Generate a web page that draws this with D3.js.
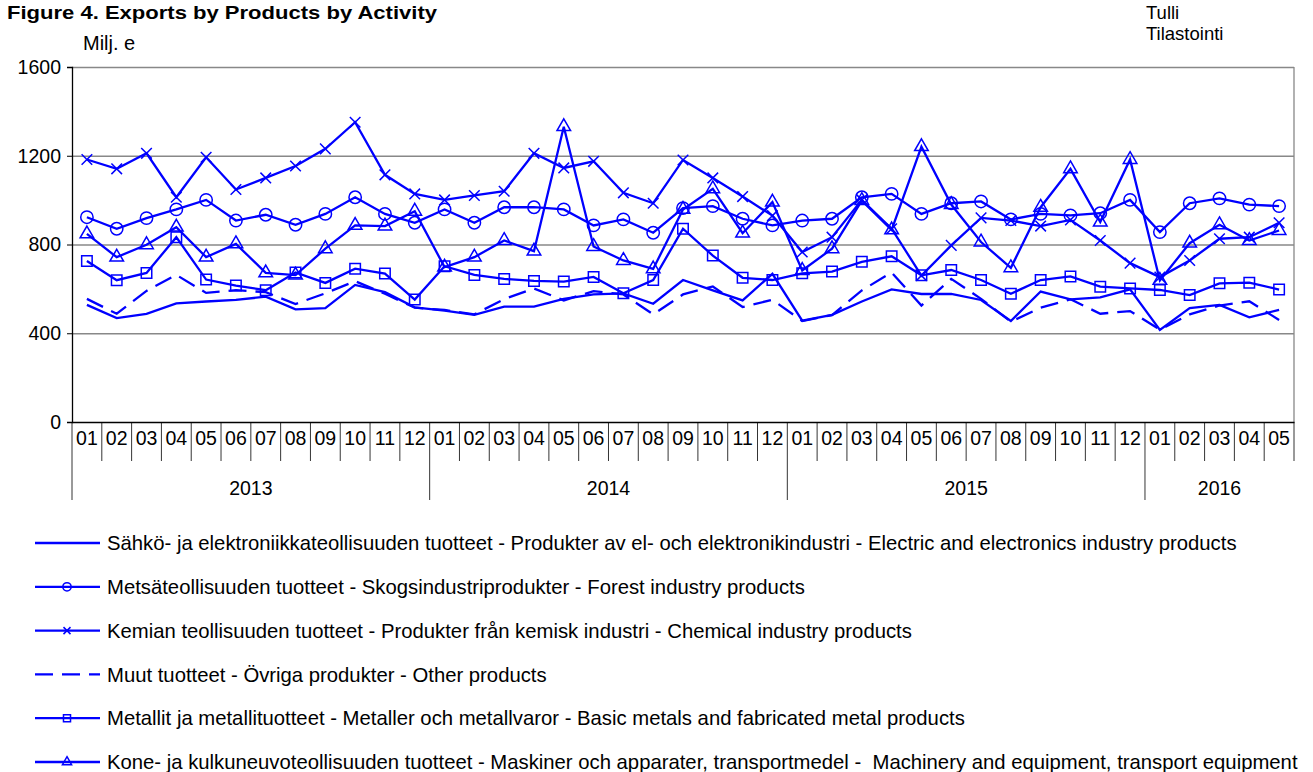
<!DOCTYPE html>
<html>
<head>
<meta charset="utf-8">
<script src="https://cdn.jsdelivr.net/npm/d3@7"></script>
<style>
  body { margin: 0; background: #fff; }
  svg text { font-family: "Liberation Sans", Arial, sans-serif; fill: #000; }
</style>
</head>
<body>
<div id="chart"></div>
<script>
// months 2013-01 .. 2016-05
const monthLabels = [
  '01', '02', '03', '04', '05', '06', '07', '08', '09', '10', '11', '12',
  '01', '02', '03', '04', '05', '06', '07', '08', '09', '10', '11', '12',
  '01', '02', '03', '04', '05', '06', '07', '08', '09', '10', '11', '12',
  '01', '02', '03', '04', '05'
];
const years = ['2013', '2014', '2015', '2016'];
const monthsPerYear = [12, 12, 12, 5];
const yTicks = [0, 400, 800, 1200, 1600];

// Milj. e
const electric = [528, 468, 487, 535, 543, 550, 565, 508, 513, 618, 585, 517,
  502, 483, 520, 520, 555, 575, 580, 533, 640, 593, 548, 668,
  457, 483, 543, 598, 577, 577, 550, 455, 588, 553, 562, 598,
  415, 513, 528, 472, 505];
const forest = [923, 871, 919, 958, 1001, 908, 934, 889, 938, 1013, 938, 898,
  958, 898, 968, 968, 958, 886, 913, 853, 964, 973, 916, 886,
  908, 916, 1013, 1028, 938, 986, 994, 913, 938, 931, 941, 1001,
  856, 986, 1008, 980, 973];
const chemical = [1183, 1141, 1211, 1013, 1193, 1048, 1100, 1154, 1231, 1351, 1114, 1028,
  1001, 1021, 1040, 1211, 1145, 1175, 1033, 986, 1181, 1100, 1016, 930,
  766, 833, 1001, 871, 660, 796, 920, 908, 883, 911, 818, 716,
  653, 728, 826, 833, 898];
const other = [555, 488, 591, 663, 582, 594, 585, 532, 580, 635, 578, 515,
  505, 485, 554, 602, 548, 590, 575, 485, 575, 611, 518, 551,
  455, 482, 593, 674, 525, 645, 555, 452, 515, 553, 488, 500,
  416, 485, 525, 544, 460];
const metals = [726, 639, 672, 833, 642, 615, 594, 674, 627, 691, 669, 552,
  702, 663, 645, 636, 633, 654, 580, 640, 871, 750, 650, 640,
  670, 678, 722, 747, 661, 685, 640, 578, 640, 656, 610, 602,
  595, 572, 625, 628, 597];
const machinery = [848, 743, 799, 878, 743, 803, 672, 662, 781, 886, 883, 950,
  698, 743, 818, 770, 1331, 791, 728, 690, 958, 1051, 851, 991,
  683, 781, 998, 866, 1241, 980, 811, 695, 968, 1141, 901, 1183,
  638, 806, 889, 818, 863];

const seriesNames = [
  'Sähkö- ja elektroniikkateollisuuden tuotteet - Produkter av el- och elektronikindustri - Electric and electronics industry products',
  'Metsäteollisuuden tuotteet - Skogsindustriprodukter - Forest industry products',
  'Kemian teollisuuden tuotteet - Produkter från kemisk industri - Chemical industry products',
  'Muut tuotteet - Övriga produkter - Other products',
  'Metallit ja metallituotteet - Metaller och metallvaror - Basic metals and fabricated metal products',
  'Kone- ja kulkuneuvoteollisuuden tuotteet - Maskiner och apparater, transportmedel -  Machinery and equipment, transport equipment'
];

const blue = '#0000ff';
const series = [
  {name: seriesNames[0], values: electric, symbol: null, dash: null},
  {name: seriesNames[1], values: forest, symbol: d3.symbolCircle, size: 120, dash: null},
  {name: seriesNames[2], values: chemical, symbol: d3.symbolX, size: 75, dash: null},
  {name: seriesNames[3], values: other, symbol: null, dash: '18,9'},
  {name: seriesNames[4], values: metals, symbol: d3.symbolSquare, size: 110, dash: null},
  {name: seriesNames[5], values: machinery, symbol: d3.symbolTriangle, size: 80, dash: null}
];

const W = 1313, H = 772;
const margin = {top: 67, left: 72, right: 19, bottom: 350};
const width = W - margin.left - margin.right;
const height = H - margin.top - margin.bottom;

const svg = d3.select('#chart').append('svg')
  .attr('width', W)
  .attr('height', H);

const x = d3.scaleBand()
  .domain(d3.range(monthLabels.length))
  .range([0, width])
  .paddingInner(0).paddingOuter(0);
const y = d3.scaleLinear()
  .domain([0, 1600])
  .range([height, 0]);

const chart = svg.append('g')
  .attr('transform', `translate(${margin.left}, ${margin.top})`);

// gridlines + frame
chart.append('g')
  .attr('class', 'grid')
  .call(d3.axisLeft(y).tickValues(yTicks.slice(1)).tickSize(-width).tickFormat(''))
  .call(g => g.select('.domain').remove())
  .selectAll('line')
  .attr('stroke', '#888')
  .attr('stroke-width', 1.3);
chart.append('line')
  .attr('x1', width).attr('x2', width)
  .attr('y1', 0).attr('y2', height)
  .attr('stroke', '#888').attr('stroke-width', 1.3);

// y axis
const yAxis = chart.append('g')
  .call(d3.axisLeft(y).tickValues(yTicks).tickSize(5).tickPadding(6).tickFormat(d3.format('d')));
yAxis.select('.domain').attr('stroke', '#000').attr('stroke-width', 1.3);
yAxis.selectAll('.tick line').attr('stroke', '#000');
yAxis.selectAll('text').style('font-size', '19.5px');

// x axis: month labels and separators
const xAxis = chart.append('g')
  .attr('transform', `translate(0, ${height})`)
  .call(d3.axisBottom(x).tickSize(0).tickPadding(9).tickFormat(i => monthLabels[i]));
xAxis.select('.domain').attr('stroke', '#000').attr('stroke-width', 1.3);
xAxis.selectAll('text').style('font-size', '19.5px');

const step = x.step();
chart.append('g')
  .selectAll('line')
  .data(d3.range(monthLabels.length + 1))
  .enter()
  .append('line')
  .attr('x1', d => d * step).attr('x2', d => d * step)
  .attr('y1', height).attr('y2', height + 39)
  .attr('stroke', '#000').attr('stroke-width', 0.8);

const yearStarts = d3.cumsum([0].concat(monthsPerYear)).slice(0, years.length + 1);
chart.append('g')
  .selectAll('line')
  .data(yearStarts.slice(0, years.length))
  .enter()
  .append('line')
  .attr('x1', d => d * step).attr('x2', d => d * step)
  .attr('y1', height + 39).attr('y2', height + 78)
  .attr('stroke', '#000').attr('stroke-width', 0.8);

chart.append('g')
  .selectAll('text')
  .data(years)
  .enter()
  .append('text')
  .attr('x', (d, i) => (yearStarts[i] + monthsPerYear[i] / 2) * step)
  .attr('y', height + 73)
  .attr('text-anchor', 'middle')
  .style('font-size', '19.5px')
  .text(d => d);

// lines
const line = d3.line()
  .x((d, i) => x(i) + x.bandwidth() / 2)
  .y(d => y(d));

series.forEach(s => {
  chart.append('path')
    .datum(s.values)
    .attr('fill', 'none')
    .attr('stroke', blue)
    .attr('stroke-width', 2.3)
    .attr('stroke-dasharray', s.dash)
    .attr('d', line);
});

series.filter(s => s.symbol).forEach(s => {
  chart.append('g')
    .selectAll('path')
    .data(s.values)
    .enter()
    .append('path')
    .attr('transform', (d, i) => `translate(${x(i) + x.bandwidth() / 2}, ${y(d)})`)
    .attr('d', d3.symbol().type(s.symbol).size(s.size))
    .attr('fill', 'none')
    .attr('stroke', blue)
    .attr('stroke-width', 1.5);
});

// titles
svg.append('text')
  .attr('x', 7).attr('y', 19)
  .attr('textLength', 430)
  .attr('lengthAdjust', 'spacingAndGlyphs')
  .style('font-size', '19px')
  .style('font-weight', 'bold')
  .text('Figure 4. Exports by Products by Activity');
svg.append('text')
  .attr('x', 83).attr('y', 50)
  .style('font-size', '20px')
  .text('Milj. e');
svg.append('text')
  .attr('x', 1146).attr('y', 19)
  .style('font-size', '18.5px')
  .text('Tulli');
svg.append('text')
  .attr('x', 1146).attr('y', 40)
  .style('font-size', '18.5px')
  .text('Tilastointi');

// legend
const legend = svg.append('g')
  .attr('transform', 'translate(35, 543)');
const rowH = 43.8;
series.forEach((s, i) => {
  const row = legend.append('g').attr('transform', `translate(0, ${i * rowH})`);
  row.append('line')
    .attr('x1', 0).attr('x2', 65)
    .attr('stroke', blue)
    .attr('stroke-width', 2.3)
    .attr('stroke-dasharray', s.dash);
  if (s.symbol) {
    row.append('path')
      .attr('transform', 'translate(32, 0)')
      .attr('d', d3.symbol().type(s.symbol).size(s.size * 0.45))
      .attr('fill', 'none')
      .attr('stroke', blue)
      .attr('stroke-width', 1.5);
  }
  row.append('text')
    .attr('x', 72).attr('y', 0)
    .attr('dy', '0.35em')
    .style('font-size', '20.3px')
    .style('white-space', 'pre')
    .text(s.name);
});
</script>
</body>
</html>
